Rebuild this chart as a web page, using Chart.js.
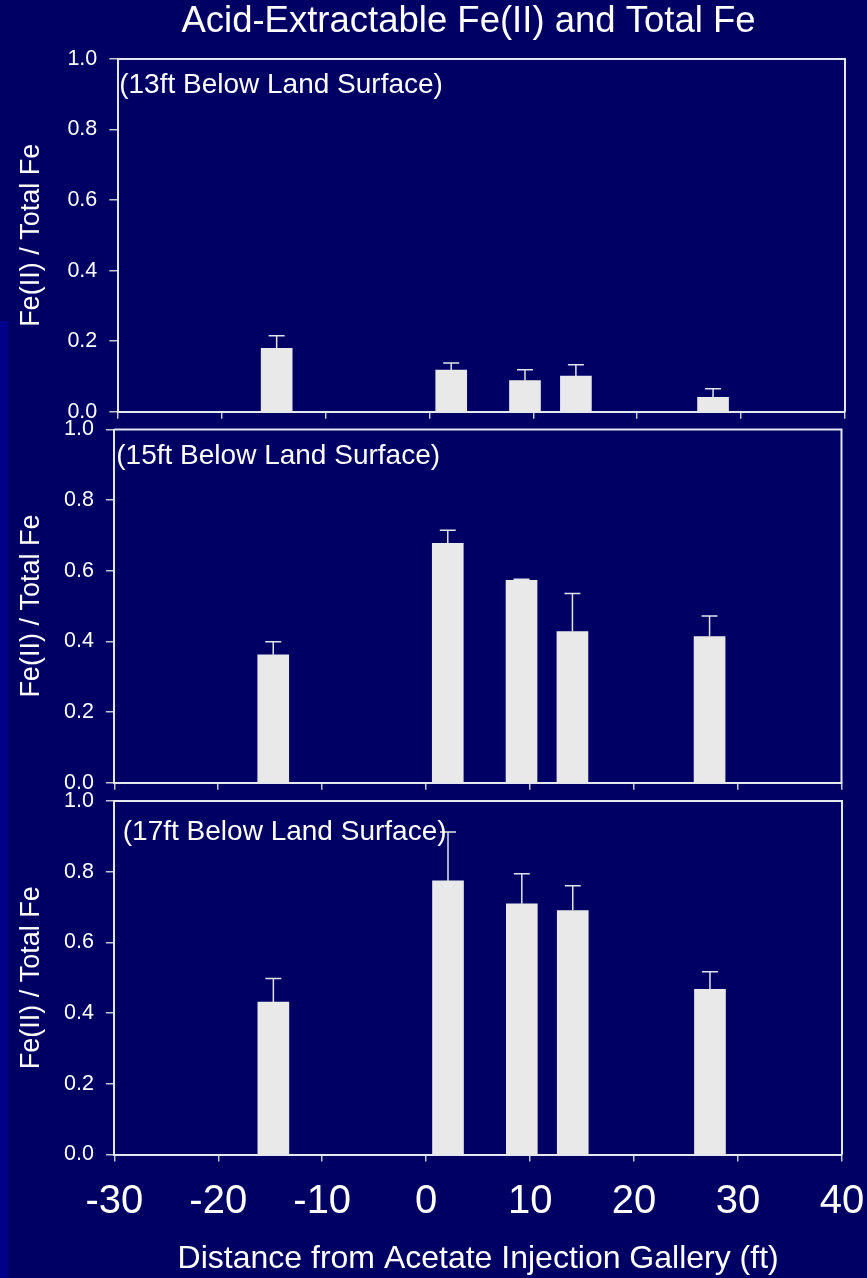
<!DOCTYPE html>
<html>
<head>
<meta charset="utf-8">
<script src="https://cdn.jsdelivr.net/npm/chart.js@4.4.1/dist/chart.umd.min.js"></script>
<style>
html, body { margin: 0; padding: 0; background: #000064; }
body { width: 867px; height: 1278px; position: relative; overflow: hidden; }
.edge { position: absolute; left: 0; top: 321px; width: 8px; height: 957px; background: #00008a; }
canvas { position: absolute; left: 0; top: 0; }
</style>
</head>
<body>
<div class="edge"></div>
<canvas id="c13" width="867" height="1278"></canvas>
<canvas id="c15" width="867" height="1278"></canvas>
<canvas id="c17" width="867" height="1278"></canvas>
<script>
// Distance of each sampled core from the acetate injection gallery (ft)
const distances = [-14.7, 2.1, 9.2, 14.1, 27.3];

// Fe(II) / Total Fe and its error at each depth
const ratio13ft = [0.180, 0.118, 0.088, 0.101, 0.041];
const error13ft = [0.035, 0.020, 0.031, 0.032, 0.024];
const ratio15ft = [0.362, 0.678, 0.573, 0.428, 0.414];
const error15ft = [0.037, 0.037, 0.003, 0.108, 0.058];
const ratio17ft = [0.431, 0.774, 0.709, 0.690, 0.467];
const error17ft = [0.067, 0.138, 0.085, 0.070, 0.050];

const xTicks = [-30, -20, -10, 0, 10, 20, 30, 40];
const yTicks = [0.0, 0.2, 0.4, 0.6, 0.8, 1.0];

const depthLabels = ['(13ft Below Land Surface)', '(15ft Below Land Surface)', '(17ft Below Land Surface)'];
const chartTitle = 'Acid-Extractable Fe(II) and Total Fe';
const yTitle = 'Fe(II) / Total Fe';
const xTitle = 'Distance from Acetate Injection Gallery (ft)';

const W = 867, H = 1278;
const FONT = '"Liberation Sans", Arial, Helvetica, sans-serif';
const TEXT = '#ffffff';
const AXIS = '#e6e6ee';
const TICK = '#c4c4d2';
const BAR = '#e9e9e9';

// Plot-area placement of the three stacked panels
const panels = [
  { id: 'c13', ratio: ratio13ft, err: error13ft, label: depthLabels[0],
    left: 117.7, right: 845, top: 59, bottom: 411.7, labelDx: 1.5, labelDy: 26 },
  { id: 'c15', ratio: ratio15ft, err: error15ft, label: depthLabels[1],
    left: 114.3, right: 841.5, top: 429.5, bottom: 782.7, labelDx: 2, labelDy: 26.5 },
  { id: 'c17', ratio: ratio17ft, err: error17ft, label: depthLabels[2],
    left: 114.3, right: 842, top: 801, bottom: 1154.5, labelDx: 8.5, labelDy: 31.7 }
];

// Top and right edges of the plot box
const frame = {
  id: 'frame',
  afterDraw(chart) {
    const { ctx, chartArea: a } = chart;
    ctx.save();
    ctx.strokeStyle = AXIS;
    ctx.lineWidth = 2;
    ctx.beginPath();
    ctx.moveTo(a.left, a.top);
    ctx.lineTo(a.right, a.top);
    ctx.lineTo(a.right, a.bottom);
    ctx.stroke();
    ctx.restore();
  }
};

// Upper error whiskers on each bar
const errorBars = {
  id: 'errorBars',
  afterDatasetsDraw(chart, args, opts) {
    const { ctx } = chart;
    const yScale = chart.scales.y;
    const meta = chart.getDatasetMeta(0);
    const values = chart.data.datasets[0].data;
    ctx.save();
    ctx.strokeStyle = '#e2e2ea';
    ctx.lineWidth = 1.5;
    meta.data.forEach((bar, k) => {
      const v = values[k].y;
      const yTop = yScale.getPixelForValue(v + opts.errors[k]);
      const yBase = yScale.getPixelForValue(v);
      ctx.beginPath();
      ctx.moveTo(bar.x, yBase);
      ctx.lineTo(bar.x, yTop);
      ctx.moveTo(bar.x - 8, yTop);
      ctx.lineTo(bar.x + 8, yTop);
      ctx.stroke();
    });
    ctx.restore();
  }
};

// Depth caption in the top-left corner of each panel
const depthCaption = {
  id: 'depthCaption',
  afterDraw(chart, args, opts) {
    const { ctx, chartArea: a } = chart;
    ctx.save();
    ctx.fillStyle = TEXT;
    ctx.font = '28px ' + FONT;
    ctx.textBaseline = 'middle';
    ctx.textAlign = 'left';
    ctx.fillText(opts.text, a.left + opts.dx, a.top + opts.dy);
    ctx.restore();
  }
};

// Slide heading above the top panel
const heading = {
  id: 'heading',
  afterDraw(chart, args, opts) {
    if (!opts.text) return;
    const { ctx } = chart;
    ctx.save();
    ctx.fillStyle = TEXT;
    ctx.font = '36.5px ' + FONT;
    ctx.textBaseline = 'middle';
    ctx.textAlign = 'center';
    ctx.fillText(opts.text, 468.5, 22);
    ctx.restore();
  }
};

panels.forEach((p, i) => {
  const last = i === panels.length - 1;
  const xAxisHeight = last ? H - p.bottom : 8;
  new Chart(document.getElementById(p.id), {
    type: 'bar',
    data: {
      datasets: [{
        data: distances.map((x, k) => ({ x: x, y: p.ratio[k] })),
        backgroundColor: BAR,
        borderWidth: 0,
        barThickness: 31
      }]
    },
    options: {
      responsive: false,
      animation: false,
      events: [],
      layout: {
        padding: { left: 0, top: p.top, right: W - p.right, bottom: H - p.bottom - xAxisHeight }
      },
      plugins: {
        legend: { display: false },
        tooltip: { enabled: false },
        errorBars: { errors: p.err },
        depthCaption: { text: p.label, dx: p.labelDx, dy: p.labelDy },
        heading: { text: i === 0 ? chartTitle : '' }
      },
      scales: {
        x: {
          type: 'linear',
          min: xTicks[0],
          max: xTicks[xTicks.length - 1],
          offset: false,
          afterBuildTicks: s => { s.ticks = xTicks.map(v => ({ value: v })); },
          afterFit: s => { s.height = xAxisHeight; s.paddingLeft = 0; s.paddingRight = 0; },
          grid: { display: true, offset: false, drawOnChartArea: false, drawTicks: true,
                  tickLength: 7, color: TICK, lineWidth: 1.5 },
          border: { display: true, color: AXIS, width: 2 },
          ticks: { display: last, color: TEXT, font: { family: FONT, size: 40 },
                   padding: 16, maxRotation: 0, autoSkip: false },
          title: { display: last, text: xTitle, color: TEXT,
                   font: { family: FONT, size: 32 }, padding: { top: 0, bottom: 0 } }
        },
        y: {
          min: yTicks[0],
          max: yTicks[yTicks.length - 1],
          afterBuildTicks: s => { s.ticks = yTicks.map(v => ({ value: v })); },
          afterFit: s => { s.width = p.left; s.paddingTop = 0; s.paddingBottom = 0; },
          grid: { display: true, drawOnChartArea: false, drawTicks: true,
                  tickLength: 8.4, color: TICK, lineWidth: 1.5 },
          border: { display: true, color: AXIS, width: 2 },
          ticks: { color: TEXT, font: { family: FONT, size: 21.5 }, padding: 12,
                   callback: v => Number(v).toFixed(1) },
          title: { display: true, text: yTitle, color: TEXT,
                   font: { family: FONT, size: 27 }, padding: { top: 15, bottom: 0 } }
        }
      }
    },
    plugins: [frame, errorBars, depthCaption, heading]
  });
});
</script>
</body>
</html>
